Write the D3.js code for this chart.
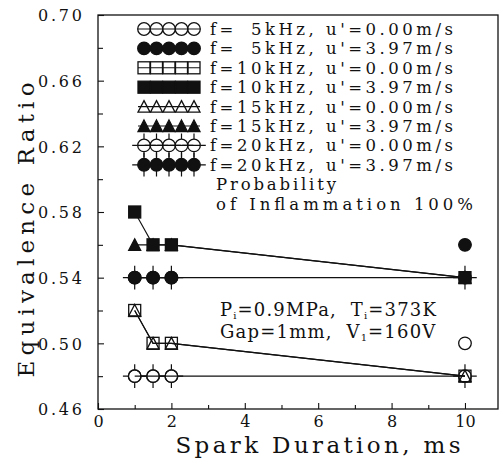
<!DOCTYPE html>
<html>
<head>
<meta charset="utf-8">
<script src="https://cdn.jsdelivr.net/npm/d3@7"></script>
<style>
  body { margin: 0; background: #fff; }
  svg { display: block; }
  text { font-family: "DejaVu Serif", "Liberation Serif", serif; fill: #111; }
</style>
</head>
<body>
<svg id="chart" width="502" height="458"></svg>
<script>
// Spark durations (ms) at which each condition was tested
const durations = [1, 1.5, 2, 10];

// Lean limit equivalence ratio at 100 % ignition probability
const f5_u0   = [0.48, 0.48, 0.48, 0.50];
const f5_u397 = [0.54, 0.54, 0.54, 0.56];
const f10_u0   = [0.52, 0.50, 0.50, 0.48];
const f10_u397 = [0.58, 0.56, 0.56, 0.54];
const f15_u0   = [0.52, 0.50, 0.50, 0.48];
const f15_u397 = [0.56, 0.56, 0.56, 0.54];
const f20_u0   = [0.48, 0.48, 0.48, 0.48];
const f20_u397 = [0.54, 0.54, 0.54, 0.54];

const legendLabels = [
  "f=\u20075kHz,  u'=0.00m/s",
  "f=\u20075kHz,  u'=3.97m/s",
  "f=10kHz,  u'=0.00m/s",
  "f=10kHz,  u'=3.97m/s",
  "f=15kHz,  u'=0.00m/s",
  "f=15kHz,  u'=3.97m/s",
  "f=20kHz,  u'=0.00m/s",
  "f=20kHz,  u'=3.97m/s"
];

const xTicks = [0, 2, 4, 6, 8, 10];
const xMinor = [1, 3, 5, 7, 9];
const yTicks = [0.46, 0.50, 0.54, 0.58, 0.62, 0.66, 0.70];
const yMinor = [0.48, 0.52, 0.56, 0.60, 0.64, 0.68];

// series table in legend order; markers are drawn in drawOrder
const series = [
  { label: legendLabels[0], values: f5_u0,    shape: "circle",   filled: false, joined: false, cross: false },
  { label: legendLabels[1], values: f5_u397,  shape: "circle",   filled: true,  joined: false, cross: false },
  { label: legendLabels[2], values: f10_u0,   shape: "square",   filled: false, joined: true,  cross: false },
  { label: legendLabels[3], values: f10_u397, shape: "square",   filled: true,  joined: true,  cross: false },
  { label: legendLabels[4], values: f15_u0,   shape: "triangle", filled: false, joined: true,  cross: false },
  { label: legendLabels[5], values: f15_u397, shape: "triangle", filled: true,  joined: true,  cross: false },
  { label: legendLabels[6], values: f20_u0,   shape: "circle",   filled: false, joined: true,  cross: true },
  { label: legendLabels[7], values: f20_u397, shape: "circle",   filled: true,  joined: true,  cross: true }
];
const drawOrder = [0, 1, 6, 7, 4, 5, 2, 3];

const svg = d3.select("#chart");
const ink = "#111";

const x = d3.scaleLinear().domain([0, 10.9]).range([98, 498]);
const y = d3.scaleLinear().domain([0.46, 0.70]).range([409, 15]);

// frame
svg.append("rect")
  .attr("x", x(0)).attr("y", y(0.70))
  .attr("width", x(10.9) - x(0)).attr("height", y(0.46) - y(0.70))
  .attr("fill", "none").attr("stroke", ink).attr("stroke-width", 1.3);

// axes with inward ticks
const gx = svg.append("g").attr("transform", `translate(0,${y(0.46)})`)
  .call(d3.axisBottom(x).tickValues(xTicks).tickFormat(d3.format("d"))
        .tickSizeInner(-6).tickSizeOuter(0).tickPadding(6.5));
const gxm = svg.append("g").attr("transform", `translate(0,${y(0.46)})`)
  .call(d3.axisBottom(x).tickValues(xMinor).tickFormat("")
        .tickSizeInner(-4).tickSizeOuter(0));
const gy = svg.append("g").attr("transform", `translate(${x(0)},0)`)
  .call(d3.axisLeft(y).tickValues(yTicks).tickFormat(d3.format(".2f"))
        .tickSizeInner(-6).tickSizeOuter(0).tickPadding(16));
const gym = svg.append("g").attr("transform", `translate(${x(0)},0)`)
  .call(d3.axisLeft(y).tickValues(yMinor).tickFormat("")
        .tickSizeInner(-5).tickSizeOuter(0));

[gx, gxm, gy, gym].forEach(g => {
  g.select(".domain").remove();
  g.selectAll(".tick line").attr("stroke", ink).attr("stroke-width", 1.1);
});
gx.selectAll(".tick text")
  .style("font-family", '"DejaVu Serif", serif').style("font-size", "16px").attr("fill", ink);
gy.selectAll(".tick text")
  .style("font-family", '"DejaVu Serif", serif').style("font-size", "16px").attr("fill", ink)
  .attr("dy", "0.36em")
  .attr("textLength", 44).attr("lengthAdjust", "spacing");

// axis titles
svg.append("text")
  .attr("x", 318).attr("y", 453)
  .attr("text-anchor", "middle")
  .style("font-size", "23px")
  .attr("textLength", 285).attr("lengthAdjust", "spacing")
  .text("Spark Duration, ms");

svg.append("text")
  .attr("transform", "translate(34,230) rotate(-90)")
  .attr("text-anchor", "middle")
  .style("font-size", "23px")
  .attr("textLength", 295).attr("lengthAdjust", "spacing")
  .text("Equivalence Ratio");

// marker drawing
const R = 6.3, H = 6, T = 6;
function drawMarker(g, s, cx, cy) {
  if (s.cross) {
    const a = R, b = R + 5.5;
    g.append("path")
      .attr("d", `M${cx},${cy - b}V${cy - a}M${cx},${cy + a}V${cy + b}M${cx - b},${cy}H${cx - a}M${cx + a},${cy}H${cx + b}`)
      .attr("stroke", ink).attr("stroke-width", 1.2).attr("fill", "none");
  }
  let m;
  if (s.shape === "circle") {
    m = g.append("circle").attr("cx", cx).attr("cy", cy).attr("r", R);
  } else if (s.shape === "square") {
    m = g.append("rect").attr("x", cx - H).attr("y", cy - H).attr("width", 2 * H).attr("height", 2 * H);
  } else {
    m = g.append("path").attr("d", `M${cx},${cy - T}L${cx + T},${cy + T - 0.5}L${cx - T},${cy + T - 0.5}Z`);
  }
  m.attr("fill", s.filled ? ink : "none").attr("stroke", ink).attr("stroke-width", 1.3);
}

// connecting lines
const line = d3.line().x(d => x(d[0])).y(d => y(d[1]));
const gLines = svg.append("g");
series.filter(s => s.joined).forEach(s => {
  gLines.append("path")
    .attr("d", line(durations.map((d, i) => [d, s.values[i]])))
    .attr("fill", "none").attr("stroke", ink).attr("stroke-width", 1.1);
});

// data markers
const gMarks = svg.append("g");
drawOrder.forEach(k => {
  const s = series[k];
  durations.forEach((d, i) => drawMarker(gMarks, s, x(d), y(s.values[i])));
});

// legend
const gLeg = svg.append("g");
const legX0 = 144, legDx = 12.5, legY0 = 29, legDy = 19.4;
series.forEach((s, i) => {
  const cy = legY0 + i * legDy;
  gLeg.append("line")
    .attr("x1", legX0 - 6).attr("x2", legX0 + 4 * legDx + 6)
    .attr("y1", cy).attr("y2", cy)
    .attr("stroke", ink).attr("stroke-width", 1.1);
  for (let k = 0; k < 5; k++) drawMarker(gLeg, s, legX0 + k * legDx, cy);
  gLeg.append("text")
    .attr("x", 210).attr("y", cy + 6)
    .style("font-size", "16.5px")
    .attr("textLength", 243).attr("lengthAdjust", "spacing")
    .text(s.label);
});
gLeg.append("text")
  .attr("x", 216).attr("y", legY0 + 8 * legDy + 6)
  .style("font-size", "16.5px")
  .attr("textLength", 120).attr("lengthAdjust", "spacing")
  .text("Probability");
gLeg.append("text")
  .attr("x", 216).attr("y", legY0 + 9 * legDy + 6)
  .style("font-size", "16.5px")
  .attr("textLength", 257).attr("lengthAdjust", "spacing")
  .text("of Inflammation 100%");

// test conditions, written piece by piece so subscripts sit after their letters
function condLine(x0, yb, parts) {
  let cx = x0;
  parts.forEach(p => {
    const t = svg.append("text")
      .attr("x", cx)
      .attr("y", p.sub ? yb + 2.5 : yb)
      .style("font-size", p.sub ? "10px" : "18px")
      .style("letter-spacing", p.sub ? "0px" : "1.2px")
      .text(p.sub || p.t);
    cx += t.node().getComputedTextLength() + (p.sub ? 1 : 0);
  });
}
condLine(220, 316, [{ t: "P" }, { sub: "i" }, { t: "=0.9MPa,\u00a0\u00a0T" }, { sub: "i" }, { t: "=373K" }]);
condLine(220, 338, [{ t: "Gap=1mm,\u00a0\u00a0V" }, { sub: "1" }, { t: "=160V" }]);
</script>
</body>
</html>
